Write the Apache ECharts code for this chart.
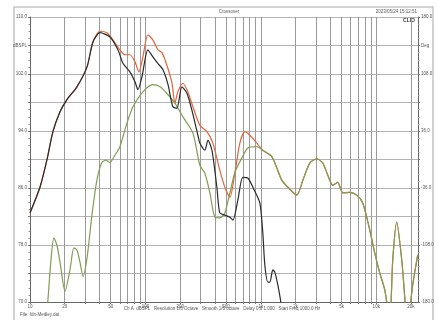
<!DOCTYPE html>
<html>
<head>
<meta charset="utf-8">
<script src="https://cdn.jsdelivr.net/npm/echarts/dist/echarts.min.js"></script>
<style>
  html, body { margin: 0; padding: 0; background: #fff; }
  #chart { width: 439px; height: 320px; }
</style>
</head>
<body>
<div id="chart"></div>
<script>
// low end, red and black run together here
const riseFreq = [10, 12.2, 14.0, 15.8, 18.2, 20.9, 25.5, 31.2, 35.1, 40.4];
const riseDb = [82.5, 86.1, 89.9, 93.9, 96.7, 98.4, 100.2, 103.0, 106.5, 108.0];

const redMidFreq = [46.4, 52.3, 60.1, 66.5, 73.4, 81.2, 87.9, 95.1, 105, 116, 128, 139, 153, 170, 180, 191, 211, 233, 258, 296, 341, 384, 441, 488, 539, 596, 658, 727, 803, 923, 1040];
const redMidDb = [107.8, 106.8, 105.4, 104.7, 104.7, 103.7, 102.3, 104.4, 107.5, 106.8, 105.4, 105.0, 103.3, 100.7, 97.9, 99.5, 100.7, 99.5, 97.4, 94.8, 93.9, 92.3, 88.5, 86.1, 84.7, 88.1, 92.3, 93.9, 93.4, 92.3, 91.3];

const blackMidFreq = [49.3, 57.8, 63.9, 73.4, 81.2, 86.1, 93.3, 105, 116, 128, 142, 157, 173, 187.5, 207, 229, 253, 285, 296, 327, 348, 377, 416, 441, 488, 539, 573, 632, 698, 771, 853, 980, 1040, 1083, 1151, 1197, 1270, 1322, 1403, 1490, 1549];
const blackMidDb = [107.2, 105.4, 103.5, 102.3, 100.9, 99.8, 101.6, 105.4, 104.4, 103.5, 102.6, 100.5, 97.4, 97.2, 100.2, 99.3, 96.9, 93.4, 92.3, 91.3, 92.7, 91.3, 86.1, 82.5, 82.2, 81.9, 81.5, 84.3, 87.5, 87.4, 86.1, 83.9, 79.7, 75.2, 72.8, 72.8, 74.5, 74.2, 72.4, 70.0, 67.5];

const greenFreq = [13.8, 14.3, 15.2, 16.1, 17.1, 18.2, 20.1, 22.2, 24.0, 25.5, 27.1, 28.8, 31.2, 34.4, 38.0, 42.0, 45.5, 49.3, 54.4, 60.1, 69.2, 78.0, 95.1, 116, 134, 153, 180, 211, 258, 296, 327, 362, 400, 441, 488, 539, 596, 684, 771, 923, 1040];
const greenDb = [67.5, 70.3, 75.9, 79.0, 78.0, 75.6, 71.5, 74.5, 77.6, 77.3, 75.6, 73.6, 76.2, 82.2, 87.1, 89.6, 89.9, 89.6, 90.6, 91.8, 95.1, 97.4, 99.5, 100.5, 100.2, 99.3, 97.9, 96.0, 93.7, 89.2, 88.1, 85.3, 81.9, 81.8, 82.5, 85.3, 88.2, 90.2, 91.6, 91.8, 91.3];

// high end, red and green run together here
const tailFreq = [1245, 1376, 1520, 1714, 2051, 2312, 2656, 3053, 3443, 3803, 4200, 4642, 5129, 5900, 6776, 7640, 8790, 9700, 10720, 11850, 13090, 13900, 15040, 16630, 17650, 18370, 19500, 20700, 22870];
const tailDb = [90.4, 88.8, 87.1, 86.1, 85.0, 87.1, 89.5, 90.1, 89.5, 87.8, 86.4, 86.8, 85.3, 85.4, 85.0, 83.9, 80.1, 76.9, 74.1, 71.7, 67.5, 75.9, 81.2, 75.9, 70.7, 66.5, 68.9, 72.4, 76.6];

const xLabelValues = [10, 20, 50, 100, 200, 500, 1000, 2000, 5000, 10000, 20000];

function pairs(fs, vs) {
  return fs.map((f, i) => [f, vs[i]]);
}

const gridFreqs = [];
for (let d = 10; d <= 10000; d *= 10) {
  for (let m = 1; m <= 9; m++) {
    if (d * m <= 23000) gridFreqs.push(d * m);
  }
}

const redData = pairs(riseFreq, riseDb).concat(pairs(redMidFreq, redMidDb), pairs(tailFreq, tailDb));
const blackData = pairs(riseFreq, riseDb.map((v, i) => i === riseDb.length - 1 ? v - 0.2 : v)).concat(pairs(blackMidFreq, blackMidDb));
const greenData = pairs(greenFreq, greenDb).concat(pairs(tailFreq, tailDb));

const chart = echarts.init(document.getElementById('chart'));
const font = 'Liberation Sans, Arial, sans-serif';

chart.setOption({
  backgroundColor: '#fff',
  animation: false,
  grid: { left: 30, right: 21, top: 17, bottom: 18 },
  xAxis: {
    type: 'log',
    logBase: 10,
    min: 10,
    max: 23000,
    axisLine: { show: true, onZero: false, lineStyle: { color: '#666', width: 1 } },
    axisTick: { show: true, customValues: gridFreqs, length: 2, lineStyle: { color: '#777' } },
    splitLine: { show: true, lineStyle: { color: '#9a9a9a', width: 1 } },
    axisLabel: {
      customValues: xLabelValues,
      fontSize: 4.5,
      margin: 2,
      color: '#555',
      fontFamily: font,
      formatter: v => v >= 1000 ? (v / 1000) + 'k' : String(v)
    }
  },
  yAxis: [
    {
      type: 'value',
      min: 70,
      max: 110,
      interval: 4,
      axisLine: { show: true, lineStyle: { color: '#666', width: 1 } },
      axisTick: { show: true, length: 2, lineStyle: { color: '#777' } },
      minorTick: { show: true, splitNumber: 4, length: 1.5, lineStyle: { color: '#999' } },
      splitLine: { show: true, lineStyle: { color: '#b4b4b4', width: 1 } },
      axisLabel: {
        fontSize: 4.5,
        margin: 3,
        color: '#555',
        fontFamily: font,
        formatter: v => v === 106 ? 'dBSPL' : ((v - 70) % 8 === 0 ? v.toFixed(1) : '')
      }
    },
    {
      type: 'value',
      position: 'right',
      min: -180,
      max: 180,
      interval: 36,
      axisLine: { show: true, lineStyle: { color: '#666', width: 1 } },
      axisTick: { show: true, length: 2, lineStyle: { color: '#777' } },
      minorTick: { show: true, splitNumber: 4, length: 1.5, lineStyle: { color: '#999' } },
      splitLine: { show: false },
      axisLabel: {
        fontSize: 4.5,
        margin: 3,
        color: '#555',
        fontFamily: font,
        formatter: v => v === 144 ? 'Deg' : ((v + 180) % 72 === 0 ? v.toFixed(1) : '')
      }
    }
  ],
  series: [
    {
      type: 'line',
      data: greenData,
      showSymbol: false,
      smooth: 0.25,
      clip: true,
      lineStyle: { color: '#7f9e52', width: 1.2 },
      z: 3
    },
    {
      type: 'line',
      data: blackData,
      showSymbol: false,
      smooth: 0.25,
      clip: true,
      lineStyle: { color: '#2a2a2a', width: 1.2 },
      z: 4
    },
    {
      type: 'line',
      data: redData,
      showSymbol: false,
      smooth: 0.25,
      clip: true,
      lineStyle: { color: '#e2643c', width: 1.2 },
      z: 2
    }
  ],
  graphic: [
    {
      type: 'rect',
      shape: { x: 14, y: 7, width: 419, height: 330 },
      style: { fill: 'none', stroke: '#c4c4c4', lineWidth: 1.5 },
      silent: true
    },
    {
      type: 'text', x: 229, y: 12,
      style: { text: 'Crossover', fontSize: 4.5, fill: '#555', fontFamily: font, align: 'center', verticalAlign: 'middle' }
    },
    {
      type: 'text', x: 417, y: 12,
      style: { text: '2023/05/24 15:12:51', fontSize: 4.5, fill: '#555', fontFamily: font, align: 'right', verticalAlign: 'middle' }
    },
    {
      type: 'text', x: 415, y: 21,
      style: { text: 'CLIO', fontSize: 5, fontWeight: 'bold', fill: '#333', fontFamily: font, align: 'right', verticalAlign: 'middle' }
    },
    {
      type: 'text', x: 222, y: 309,
      style: { text: 'Ch A  dBSPL   Resolution 1/6 Octave   Smooth 1/6 octave   Delay 0.0 1.000   Start Freq 1000.0 Hz', fontSize: 4.5, fill: '#555', fontFamily: font, align: 'center', verticalAlign: 'middle' }
    },
    {
      type: 'text', x: 20, y: 315,
      style: { text: 'File: fdn-Medley.dat', fontSize: 4.5, fill: '#555', fontFamily: font, align: 'left', verticalAlign: 'middle' }
    }
  ]
});
</script>
</body>
</html>
